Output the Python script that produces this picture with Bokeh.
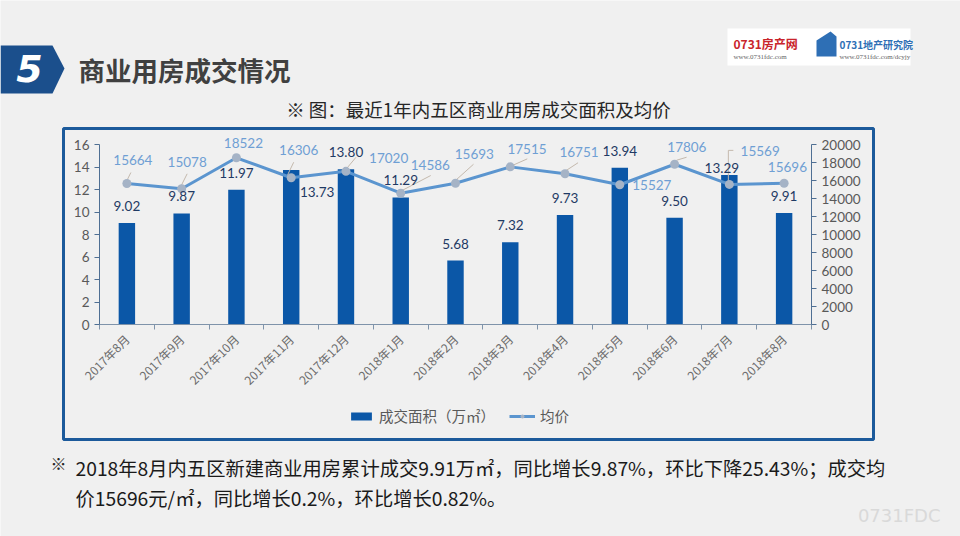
import numpy as np
from bokeh.plotting import figure
from bokeh.models import (Range1d, LinearAxis, FixedTicker, ColumnDataSource, LabelSet, Label,
                          BoxAnnotation, PolyAnnotation, Legend, LegendItem)
from bokeh.core.properties import value
from bokeh.embed import file_html
from bokeh.resources import INLINE

# ---------------- data ----------------
months = ["2017年8月", "2017年9月", "2017年10月", "2017年11月", "2017年12月", "2018年1月",
          "2018年2月", "2018年3月", "2018年4月", "2018年5月", "2018年6月", "2018年7月", "2018年8月"]
area = [9.02, 9.87, 11.97, 13.73, 13.80, 11.29, 5.68, 7.32, 9.73, 13.94, 9.50, 13.29, 9.91]
price = [15664, 15078, 18522, 16306, 17020, 14586, 15693, 17515, 16751, 15527, 17806, 15569, 15696]
area_ticks = [0, 2, 4, 6, 8, 10, 12, 14, 16]
price_ticks = [0, 2000, 4000, 6000, 8000, 10000, 12000, 14000, 16000, 18000, 20000]

# ---------------- layout (px) ----------------
W, H = 960, 536
PL, PR, PT, PB = 99, 811, 144, 324       # chart plot area (axis 0..16) in canvas px
N = len(months)
PX_CAT = (PR - PL) / N
PX_Y = (PB - PT) / 16.0
RATIO = 1250.0                           # price units per area unit
PX_P = PX_Y / RATIO

def sx(x):
    return x

def sy(y):   # canvas y from top -> screen y from bottom
    return H - y

CJK = "Noto Sans CJK SC"
NUM = "Lato"

y0, y1 = -(H - PB) / PX_Y, 16 + PT / PX_Y
p = figure(width=W, height=H, output_backend="svg", toolbar_location=None,
           x_axis_type=None, y_axis_type=None,
           x_range=Range1d(-PL / PX_CAT, N + (W - PR) / PX_CAT), y_range=Range1d(y0, y1),
           min_border=0)
p.extra_y_ranges = {"price": Range1d(y0 * RATIO, y1 * RATIO)}
p.background_fill_color = "#f0f0f0"
p.border_fill_color = "#f0f0f0"
p.outline_line_color = None

xc = [i + 0.5 for i in range(N)]

def style_axis(ax, color):
    ax.axis_line_color = color
    ax.major_tick_line_color = color
    ax.major_tick_out = 5
    ax.major_tick_in = 0
    ax.minor_tick_line_color = None
    ax.major_label_text_font = NUM
    ax.major_label_text_font_size = "13.5px"
    ax.major_label_text_color = "#595959"

# axes drawn at fixed locations inside the frame
xa = LinearAxis(fixed_location=0, bounds=(0, N),
                ticker=FixedTicker(ticks=xc, minor_ticks=list(range(N + 1))))
xa.major_label_overrides = {x: m for x, m in zip(xc, months)}
xa.major_tick_line_color = None
xa.minor_tick_out = 5
xa.minor_tick_in = 0
xa.minor_tick_line_color = "#7f93aa"
xa.axis_line_color = "#7f93aa"
xa.major_label_orientation = np.pi / 4
xa.major_label_standoff = 6
xa.major_label_text_font = CJK
xa.major_label_text_font_size = "12px"
xa.major_label_text_color = "#6b6b6b"
p.add_layout(xa, "below")

ya = LinearAxis(fixed_location=0, bounds=(0, 16), ticker=FixedTicker(ticks=area_ticks))
style_axis(ya, "#4f6f93")
p.add_layout(ya, "left")

ra = LinearAxis(y_range_name="price", fixed_location=N, bounds=(0, 20000),
                ticker=FixedTicker(ticks=price_ticks))
style_axis(ra, "#4f6f93")
p.add_layout(ra, "right")

# bars
bars = p.vbar(x=xc, top=area, width=0.3, fill_color="#0b57a7", line_color=None)

# leader lines (pixel offsets relative to the price point)
leaders = {0: [(-1, 1), (4, 11)], 1: [(-1, 2), (5.5, 15)], 3: [(-4, 2), (2.5, 15.5)],
           4: [(0, 2), (10, 14)], 5: [(-2, 1), (30, 17.7)], 6: [(-2, 1), (18, 19)],
           7: [(-1, 0), (17, 8)], 8: [(-1.5, 1.5), (13, 11)], 10: [(2, 4), (12, 7)],
           11: [(-1, 1), (-1, 34), (4, 34)]}
lxs, lys = [], []
for i, pts in leaders.items():
    lxs.append([xc[i] + dx / PX_CAT for dx, dy in pts])
    lys.append([price[i] + dy / PX_P for dx, dy in pts])
p.multi_line(xs=lxs, ys=lys, y_range_name="price", line_color="#c4b9ad", line_width=1)

line = p.line(xc, price, y_range_name="price", line_color="#5b95cf", line_width=3)
pts = p.scatter(xc, price, y_range_name="price", size=9, fill_color="#a5b3c6", line_color=None)

# data labels
a_dx = [0, 0, 0, 26, 0, 0, 0, 0, 0, 0, 0, -7.5, 0]
a_dy = [17, 17, 17, -22, 17, 17, 17, 17, 17, 17, 17, 7, 17]
asrc = ColumnDataSource(dict(x=xc, y=area, t=["%.2f" % v for v in area], dx=a_dx, dy=a_dy))
p.add_layout(LabelSet(x="x", y="y", text="t", source=asrc, x_offset="dx", y_offset="dy",
                      text_align="center", text_baseline="middle", text_font=value(NUM),
                      text_font_size="13.5px", text_color="#1f3a64"))
p_dx = [6, 5.5, 7, 7.5, 42.7, 29.6, 18.8, 16.7, 14, 32, 12.3, 30.8, 3.3]
p_dy = [24, 26.6, 15, 28, 13.5, 28.7, 29.5, 18, 21.5, 0, 17.7, 33, 16.7]
psrc = ColumnDataSource(dict(x=xc, y=price, t=[str(v) for v in price], dx=p_dx, dy=p_dy))
p.add_layout(LabelSet(x="x", y="y", text="t", source=psrc, x_offset="dx", y_offset="dy",
                      y_range_name="price", text_align="center", text_baseline="middle",
                      text_font=value(NUM), text_font_size="13.5px", text_color="#6f9fd4"))

# legend
leg = Legend(items=[LegendItem(label="成交面积（万㎡）", renderers=[bars]),
                    LegendItem(label="均价", renderers=[line, pts])],
             orientation="horizontal", location=(348, 110), background_fill_alpha=0,
             border_line_color=None, label_text_font=CJK, label_text_font_size="14.5px",
             label_text_color="#595959", glyph_width=26, glyph_height=10, spacing=14,
             margin=0, padding=4)
p.add_layout(leg, "center")

# ---------------- slide decorations ----------------
def slabel(x, y, text, font, size, color, align="left", style="normal"):
    p.add_layout(Label(x=sx(x), y=sy(y), x_units="screen", y_units="screen", text=text,
                       text_font=font, text_font_size=size, text_color=color,
                       text_align=align, text_baseline="middle", text_font_style=style))

def sbox(l, r, t, b, **kw):
    p.add_layout(BoxAnnotation(left=sx(l), right=sx(r), top=sy(t), bottom=sy(b),
                               left_units="screen", right_units="screen", top_units="screen",
                               bottom_units="screen", **kw))

# chart box
sbox(63, 873, 128, 439, fill_alpha=0, line_color="#1c5a9b", line_alpha=1, line_width=3,
     level="underlay")
# badge
p.add_layout(PolyAnnotation(xs=[sx(0), sx(52), sx(64), sx(52), sx(0)],
                            ys=[sy(45), sy(45), sy(68), sy(93), sy(93)],
                            xs_units="screen", ys_units="screen", fill_color="#1b4f8c",
                            fill_alpha=1, line_color=None))
slabel(29, 68, "5", "DejaVu Sans", "38px", "white", "center", "bold italic")
slabel(78, 69, "商业用房成交情况", CJK, "26.5px", "#404040", "left", "bold")
# logos
sbox(727, 910, 28, 65, fill_color="white", fill_alpha=1, line_color=None)
slabel(733, 43, "0731房产网", CJK, "12px", "#c9242b", "left", "bold")
slabel(733, 56, "www.0731fdc.com", "Liberation Serif", "7px", "#666666")
p.add_layout(PolyAnnotation(xs=[sx(816), sx(830), sx(836), sx(836), sx(816)],
                            ys=[sy(40), sy(31), sy(36), sy(56), sy(56)],
                            xs_units="screen", ys_units="screen", fill_color="#2e6fb5",
                            fill_alpha=1, line_color=None))
slabel(839, 44, "0731地产研究院", CJK, "10px", "#2e6fb5", "left", "bold")
slabel(839, 56, "www.0731fdc.com/dcyjy", "Liberation Serif", "7px", "#666666")
# subtitle
slabel(480, 108, "※  图：最近1年内五区商业用房成交面积及均价", CJK, "18.5px", "#262626", "center")
# bottom text
slabel(50, 462, "※", CJK, "16px", "#262626")
slabel(75, 467, "2018年8月内五区新建商业用房累计成交9.91万㎡，同比增长9.87%，环比下降25.43%；成交均",
       CJK, "19.3px", "#1a1a1a")
slabel(75, 497, "价15696元/㎡，同比增长0.2%，环比增长0.82%。", CJK, "19.3px", "#1a1a1a")
slabel(940, 515, "0731FDC", "DejaVu Sans", "18px", "#d9d9d9", "right")

open("out.html", "w").write(file_html(p, INLINE))
